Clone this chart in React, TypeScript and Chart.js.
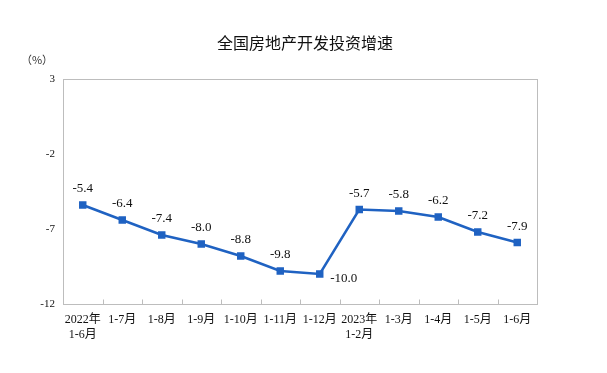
import React, { useEffect, useRef } from "react";
import { Chart, registerables } from "chart.js";

Chart.register(...registerables);

const categories: string[][] = [
  ["2022年", "1-6月"],
  ["1-7月"],
  ["1-8月"],
  ["1-9月"],
  ["1-10月"],
  ["1-11月"],
  ["1-12月"],
  ["2023年", "1-2月"],
  ["1-3月"],
  ["1-4月"],
  ["1-5月"],
  ["1-6月"],
];
const growth: number[] = [-5.4, -6.4, -7.4, -8.0, -8.8, -9.8, -10.0, -5.7, -5.8, -6.2, -7.2, -7.9];
const yTicks: number[] = [3, -2, -7, -12];
const title = "全国房地产开发投资增速";
const unitLabel = "（%）";

const SERIF = "'Liberation Serif', 'Times New Roman', 'Noto Sans CJK SC', serif";
const LINE_COLOR = "#1f62c2";

export default function App() {
  const ref = useRef<HTMLCanvasElement | null>(null);

  useEffect(() => {
    document.body.style.margin = "0";
    const canvas = ref.current;
    if (!canvas) return;

    const decorPlugin = {
      id: "decor",
      beforeDatasetsDraw(chart: any) {
        const { ctx, chartArea } = chart;
        const { left, right, top, bottom } = chartArea;
        ctx.save();
        ctx.strokeStyle = "#bdbdbd";
        ctx.lineWidth = 1;
        ctx.strokeRect(Math.round(left) + 0.5, Math.round(top) + 0.5, Math.round(right - left), Math.round(bottom - top));
        const xs = chart.scales.x;
        const n = categories.length;
        for (let i = 1; i < n; i++) {
          const px = (xs.getPixelForValue(i - 1) + xs.getPixelForValue(i)) / 2;
          ctx.beginPath();
          ctx.moveTo(Math.round(px) + 0.5, Math.round(bottom) + 0.5);
          ctx.lineTo(Math.round(px) + 0.5, Math.round(bottom) - 4.5);
          ctx.stroke();
        }
        ctx.restore();
      },
      afterDraw(chart: any) {
        const { ctx } = chart;
        ctx.save();
        ctx.fillStyle = "#111";
        ctx.font = "16px 'Noto Sans CJK SC', sans-serif";
        ctx.textAlign = "center";
        ctx.textBaseline = "middle";
        ctx.fillText(title, 305, 43);
        ctx.font = "11px 'Noto Sans CJK SC', sans-serif";
        ctx.fillStyle = "#333";
        ctx.fillText(unitLabel, 37, 60);

        const meta = chart.getDatasetMeta(0);
        ctx.font = "13px " + SERIF;
        ctx.fillStyle = "#111";
        ctx.textAlign = "center";
        meta.data.forEach((pt: any, i: number) => {
          const txt = growth[i].toFixed(1);
          if (i === 6) {
            ctx.fillText(txt, pt.x + 24, pt.y + 5);
          } else {
            ctx.fillText(txt, pt.x, pt.y - 16);
          }
        });
        ctx.restore();
      },
    };

    const chart = new Chart(canvas, {
      type: "line",
      data: {
        labels: categories,
        datasets: [
          {
            data: growth,
            borderColor: LINE_COLOR,
            backgroundColor: LINE_COLOR,
            borderWidth: 2.5,
            pointStyle: "rect",
            pointRadius: 3.5,
            pointHoverRadius: 3.5,
            tension: 0,
          },
        ],
      },
      options: {
        animation: false,
        responsive: false,
        maintainAspectRatio: false,
        layout: { padding: { top: 79, right: 70, left: 0, bottom: 0 } },
        plugins: {
          legend: { display: false },
          tooltip: { enabled: false },
          title: { display: false },
        },
        scales: {
          x: {
            offset: true,
            grid: { display: false, drawTicks: false },
            border: { display: false },
            ticks: {
              color: "#111",
              font: { family: SERIF, size: 12 },
              padding: 9,
              maxRotation: 0,
              autoSkip: false,
            },
            afterFit(scale: any) {
              scale.height = 69;
            },
          },
          y: {
            min: -12,
            max: 3,
            afterBuildTicks(scale: any) {
              scale.ticks = yTicks.map((v) => ({ value: v }));
            },
            grid: { display: false, drawTicks: false },
            border: { display: false },
            ticks: {
              color: "#111",
              font: { family: SERIF, size: 11 },
              padding: 8,
            },
            afterFit(scale: any) {
              scale.width = 63;
            },
          },
        },
      },
      plugins: [decorPlugin],
    });

    return () => chart.destroy();
  }, []);

  return (
    <div style={{ width: 607, height: 373, background: "#fff" }}>
      <canvas ref={ref} width={607} height={373} style={{ display: "block" }} />
    </div>
  );
}
